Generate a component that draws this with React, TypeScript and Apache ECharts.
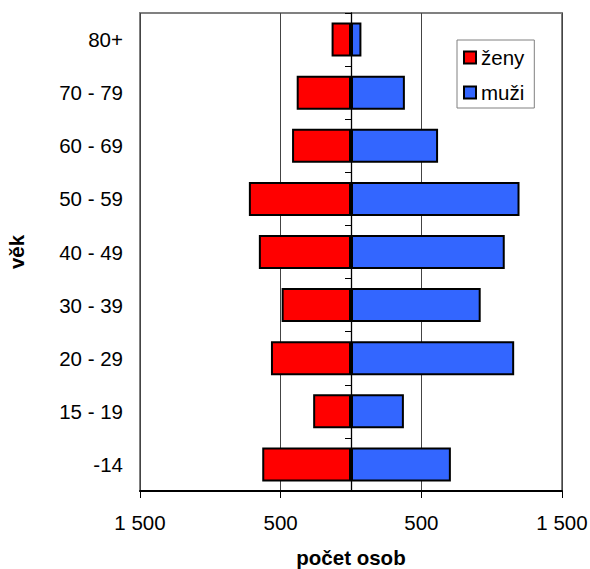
import React, { useEffect, useRef } from "react";
import * as echarts from "echarts";

const categories = ["-14", "15 - 19", "20 - 29", "30 - 39", "40 - 49", "50 - 59", "60 - 69", "70 - 79", "80+"];
const zeny = [631, 269, 569, 493, 655, 726, 419, 386, 138];
const muzi = [710, 376, 1160, 922, 1093, 1198, 619, 383, 74];
const xTicks = { min: -1500, max: 1500, interval: 1000 };

const FONT = "'Liberation Sans', Arial, sans-serif";

function fmt(v: number) {
  const a = Math.abs(v);
  const s = String(a);
  return s.replace(/\B(?=(\d{3})+(?!\d))/g, " ");
}

export default function App() {
  const ref = useRef<HTMLDivElement>(null);
  useEffect(() => {
    if (!ref.current) return;
    const chart = echarts.init(ref.current, undefined, { renderer: "svg" });
    chart.setOption({
      animation: false,
      backgroundColor: "#ffffff",
      textStyle: { fontFamily: FONT },
      grid: {
        left: 140,
        top: 13,
        right: 28,
        bottom: 78,
        containLabel: false,
        outerBoundsMode: "none",
        show: true,
        borderColor: "#808080",
        borderWidth: 2,
        backgroundColor: "transparent",
      },
      legend: {
        orient: "vertical",
        left: 457,
        top: 40,
        padding: [7, 10, 5, 6],
        itemGap: 14,
        itemWidth: 12,
        itemHeight: 12,
        borderColor: "#808080",
        borderWidth: 1,
        backgroundColor: "#ffffff",
        icon: "rect",
        textStyle: { fontSize: 20.5, color: "#000", fontFamily: FONT, lineHeight: 21 },
        data: ["ženy", "muži"],
      },
      xAxis: {
        type: "value",
        min: xTicks.min,
        max: xTicks.max,
        interval: xTicks.interval,
        name: "počet osob",
        nameLocation: "middle",
        nameGap: 57,
        nameTextStyle: { fontSize: 20.5, lineHeight: 18, fontWeight: "bold", color: "#000", fontFamily: FONT },
        axisLine: { show: true, lineStyle: { color: "#000", width: 2 } },
        axisTick: { show: true, length: 7, lineStyle: { color: "#000", width: 1 } },
        axisLabel: { formatter: fmt, fontSize: 20.5, color: "#000", margin: 21, fontFamily: FONT },
        splitLine: { show: true, lineStyle: { color: "#444", width: 1 } },
      },
      yAxis: {
        type: "category",
        data: categories,
        name: "věk",
        nameLocation: "middle",
        nameGap: 113,
        nameTextStyle: { fontSize: 20.5, fontWeight: "bold", color: "#000", fontFamily: FONT },
        axisLine: { show: true, onZero: true, lineStyle: { color: "#000", width: 1.3 } },
        axisTick: { show: true, length: 6, lineStyle: { color: "#000", width: 1 } },
        axisLabel: { fontSize: 20.5, color: "#000", margin: 17, fontFamily: FONT },
        splitLine: { show: false },
      },
      series: [
        {
          name: "ženy",
          type: "bar",
          stack: "total",
          barCategoryGap: "36%",
          data: zeny.map((v) => -v),
          itemStyle: { color: "#ff0000", borderColor: "#000", borderWidth: 2 },
        },
        {
          name: "muži",
          type: "bar",
          stack: "total",
          barCategoryGap: "36%",
          data: muzi,
          itemStyle: { color: "#3366ff", borderColor: "#000", borderWidth: 2 },
        },
      ],
    });
    return () => chart.dispose();
  }, []);
  return (
    <div
      ref={ref}
      style={{ position: "absolute", left: 0, top: 0, width: 590, height: 569 }}
    />
  );
}
